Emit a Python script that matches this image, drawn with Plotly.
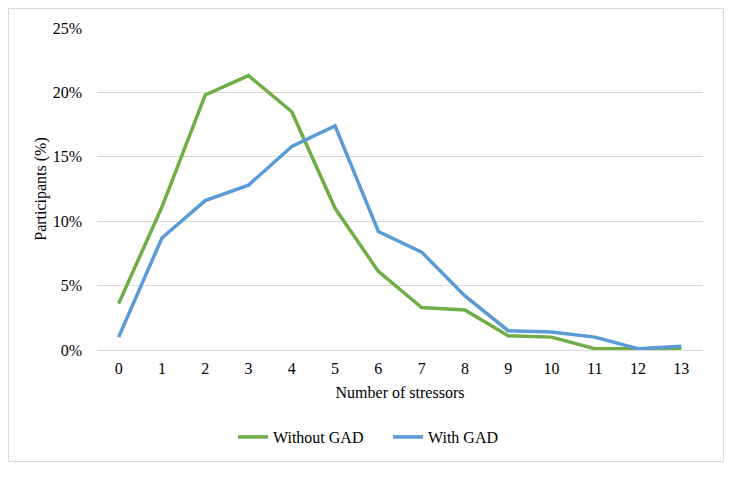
import plotly.graph_objects as go

categories = [str(i) for i in range(14)]
without_gad = [3.6, 11.1, 19.8, 21.3, 18.5, 11.0, 6.1, 3.3, 3.1, 1.1, 1.0, 0.1, 0.1, 0.05]
with_gad = [1.0, 8.7, 11.6, 12.8, 15.8, 17.4, 9.2, 7.6, 4.2, 1.5, 1.4, 1.0, 0.1, 0.3]
y_ticks = [0, 5, 10, 15, 20, 25]
y_tick_labels = [f"{v}%" for v in y_ticks]

FONT = "Liberation Serif, Times New Roman, serif"

fig = go.Figure()
fig.add_trace(go.Scatter(x=categories, y=without_gad, mode="lines", name="Without GAD",
                         line=dict(color="#70ad47", width=3.5)))
fig.add_trace(go.Scatter(x=categories, y=with_gad, mode="lines", name="With GAD",
                         line=dict(color="#5b9bd5", width=3.5)))

OFF = 8  # page body margin
W, H = 733 - OFF, 477 - OFF
# plot area in page pixels: x 97..703, y 28..350
L, T = 97 - OFF, 28 - OFF
R = W - (703 - OFF)
B = H - (350 - OFF)
pw, ph = W - L - R, H - T - B

def px_x(p):
    return (p - OFF - L) / pw

def px_y(p):
    return (H - B - (p - OFF)) / ph

fig.update_layout(
    width=W, height=H,
    margin=dict(l=L, r=R, t=T, b=B, pad=0),
    paper_bgcolor="white", plot_bgcolor="white",
    font=dict(family=FONT, size=16, color="#000000"),
    showlegend=True,
    legend=dict(orientation="h", x=px_x(388), xanchor="center", y=px_y(437), yanchor="middle",
                font=dict(size=16), entrywidth=110, traceorder="normal"),
    xaxis=dict(type="category", range=[-0.5, 13.5], showgrid=False, zeroline=False,
               showline=False, ticks="", ticklabelstandoff=7,
               title=dict(text="Number of stressors", standoff=10, font=dict(size=16))),
    yaxis=dict(range=[0, 25], tickvals=y_ticks, ticktext=y_tick_labels, showgrid=True,
               gridcolor="#d9d9d9", gridwidth=1, zeroline=True, zerolinecolor="#d9d9d9",
               zerolinewidth=1, showline=False, ticks="", ticklabelstandoff=14,
               title=dict(text="Participants (%)", standoff=2, font=dict(size=16))),
    shapes=[dict(type="rect", xref="paper", yref="paper",
                 x0=px_x(8.5), x1=px_x(723.5), y0=px_y(461.5), y1=px_y(8.5),
                 line=dict(color="#d9d9d9", width=1), fillcolor="rgba(0,0,0,0)", layer="below")],
)

fig.write_html("out.html")
